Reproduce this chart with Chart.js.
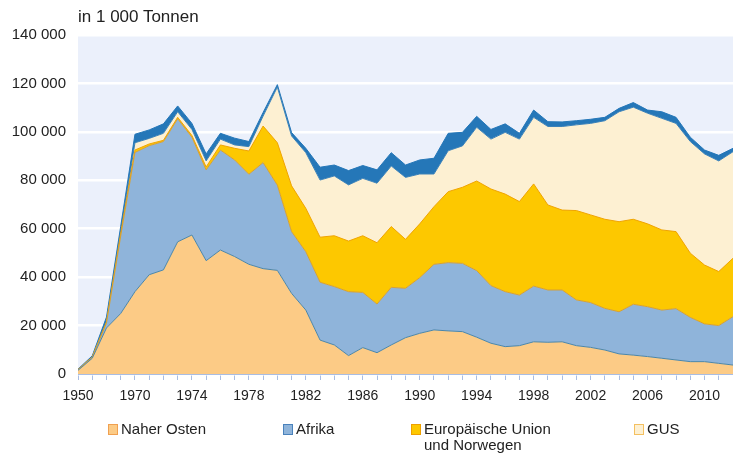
<!DOCTYPE html>
<html>
<head>
<meta charset="utf-8">
<script src="https://cdn.jsdelivr.net/npm/chart.js@4/dist/chart.umd.min.js"></script>
<style>
  html, body { margin: 0; padding: 0; background: #fff; }
  #wrap { position: relative; width: 733px; height: 453px; font-family: "Liberation Sans", Arial, sans-serif; color: #222; }
  #c { position: absolute; left: 0; top: 0; }
  #unit { position: absolute; left: 78px; top: 7px; font-size: 17px; }
  .lg { position: absolute; font-size: 15px; line-height: 16px; }
  .lg i { position: absolute; left: -13px; top: 3px; width: 8px; height: 9px; border: 1px solid; }
</style>
</head>
<body>
<div id="wrap">
  <canvas id="c" width="733" height="453"></canvas>
  <div id="unit">in 1 000 Tonnen</div>
  <div id="legend"></div>
</div>
<script>
// Categories (years)
const years = ["1950","1955","1960","1965",
  "1970","1971","1972","1973","1974","1975","1976","1977","1978","1979",
  "1980","1981","1982","1983","1984","1985","1986","1987","1988","1989",
  "1990","1991","1992","1993","1994","1995","1996","1997","1998","1999",
  "2000","2001","2002","2003","2004","2005","2006","2007","2008","2009",
  "2010","2011","2012"];

// Series values in 1 000 t
const naherOsten = [1.5,6.5,19,25,
  34,41,43,54.6,57.4,46.8,51.2,48.5,45.3,43.5,
  42.8,33.3,26.4,14,12,7.6,10.9,8.8,12,15,
  16.8,18.2,17.8,17.5,15.2,12.7,11.3,11.7,13.3,13.1,
  13.3,11.7,11,9.9,8.3,7.8,7.2,6.5,5.8,5.1,
  5.1,4.4,3.7];
const afrika = [0.3,0.5,2,32,
  57.5,53.3,53,50.8,40.4,37.5,41.3,39.9,37.2,43.8,
  35.2,25.5,24.1,23.9,24.1,26.4,22.8,20.1,23.8,20.4,
  23,27.1,28.2,28.2,27.5,23.8,22.7,20.9,23,21.6,
  21.4,18.9,18.5,17.2,17.4,21,20.6,19.9,21.2,18.3,
  15.6,15.6,20];
const euNorwegen = [0,0,0.5,1,
  1,0.7,0.5,0.6,0.7,1.2,2.1,4.8,9.6,15.1,
  17.5,18.9,17.9,18.6,21,20.9,23.4,25.3,25.1,20.2,
  22.2,23.8,29.3,31.4,37,39.9,40.3,38.6,42.2,35.1,
  33,36.9,36.2,36.8,37.2,35.1,34.2,33.1,31.8,26.5,
  24.3,22.3,24.1];
const gus = [0,0,0,0,
  3,2.3,2.9,2.3,2.5,2.5,2.4,1.4,1.8,4.1,
  23,20.6,23,23.6,24.7,23.2,23.7,24.6,25,25.6,
  20.6,13.5,16.9,17.1,22.2,20.6,25.5,25.8,27.5,32.4,
  34.5,35.4,37.8,40.7,45.4,46.3,45.7,46.1,44.7,46.1,
  45.9,45.7,44];
const sonstige = [0.2,0.5,2,3,
  3.5,3.5,3.9,2.4,2.5,2.9,2.4,2.8,2.1,1.5,
  1,1.4,1.8,5.3,4.5,5.9,5.3,5.5,5.5,5.1,
  5.8,6.5,7.2,5.6,4.5,4,3.5,2.4,3,2,
  1.9,1.7,1.7,1.4,1.4,1.9,1.3,2.7,2.5,1.8,
  1.6,2.3,1.4];

const yTicks = [0,20000,40000,60000,80000,100000,120000,140000];

const toT = a => a.map(v => v * 1000);

const legendItems = [
  { text: "Naher Osten", fill: "#fccb86", border: "#f0a050", x: 121, y: 421 },
  { text: "Afrika", fill: "#8fb4da", border: "#4a82bc", x: 296, y: 421 },
  { text: "Europäische Union<br>und Norwegen", fill: "#fdc800", border: "#eea000", x: 424, y: 421 },
  { text: "GUS", fill: "#fdf0d2", border: "#f4c060", x: 647, y: 421 }
];
document.getElementById('legend').innerHTML = legendItems.map(it =>
  `<div class="lg" style="left:${it.x}px;top:${it.y}px"><i style="background:${it.fill};border-color:${it.border}"></i>${it.text}</div>`
).join('');

const bgPlugin = {
  id: 'bg',
  beforeDraw(chart) {
    const a = chart.chartArea, ctx = chart.ctx;
    ctx.save();
    ctx.fillStyle = '#ebf0fb';
    ctx.fillRect(a.left, a.top, a.right - a.left, a.bottom - a.top);
    ctx.restore();
  }
};

const mk = (label, data, fill, border, f) => ({
  label, data: toT(data), backgroundColor: fill, borderColor: border,
  borderWidth: 1, fill: f, pointRadius: 0, tension: 0
});

new Chart(document.getElementById('c'), {
  type: 'line',
  data: {
    labels: years,
    datasets: [
      mk('Naher Osten', naherOsten, '#fccb86', '#4a86aa', 'origin'),
      mk('Afrika', afrika, '#8fb4da', '#d8a030', '-1'),
      mk('Europäische Union und Norwegen', euNorwegen, '#fdc800', '#f0a400', '-1'),
      mk('GUS', gus, '#fdf0d2', '#3a80b8', '-1'),
      mk('Sonstige', sonstige, '#2577b8', '#2577b8', '-1')
    ]
  },
  options: {
    responsive: false,
    animation: false,
    layout: { padding: { top: 35, right: 0, left: 0, bottom: 0 } },
    plugins: { legend: { display: false }, tooltip: { enabled: false } },
    scales: {
      x: {
        type: 'category',
        offset: false,
        grid: { drawOnChartArea: false, drawTicks: true, tickLength: 6, color: '#a9bde3' },
        border: { color: '#a9bde3', width: 1 },
        ticks: {
          autoSkip: false, maxRotation: 0, minRotation: 0, padding: 8,
          color: '#222', font: { family: '"Liberation Sans", Arial, sans-serif', size: 14 },
          callback: (v, i) => (i % 4 === 0 ? years[i] : '')
        },
        afterFit: s => { s.height = 79; s.paddingRight = 0; s.paddingLeft = 0; }
      },
      y: {
        stacked: true,
        min: 0, max: 140000,
        afterBuildTicks: s => { s.ticks = yTicks.map(v => ({ value: v })); },
        grid: { color: '#ffffff', lineWidth: 2.5, drawTicks: false },
        border: { display: false },
        ticks: {
          padding: 12, color: '#222',
          font: { family: '"Liberation Sans", Arial, sans-serif', size: 15 },
          callback: v => String(v).replace(/\B(?=(\d{3})+(?!\d))/g, ' ')
        },
        afterFit: s => { s.width = 78; }
      }
    }
  },
  plugins: [bgPlugin]
});
</script>
</body>
</html>
